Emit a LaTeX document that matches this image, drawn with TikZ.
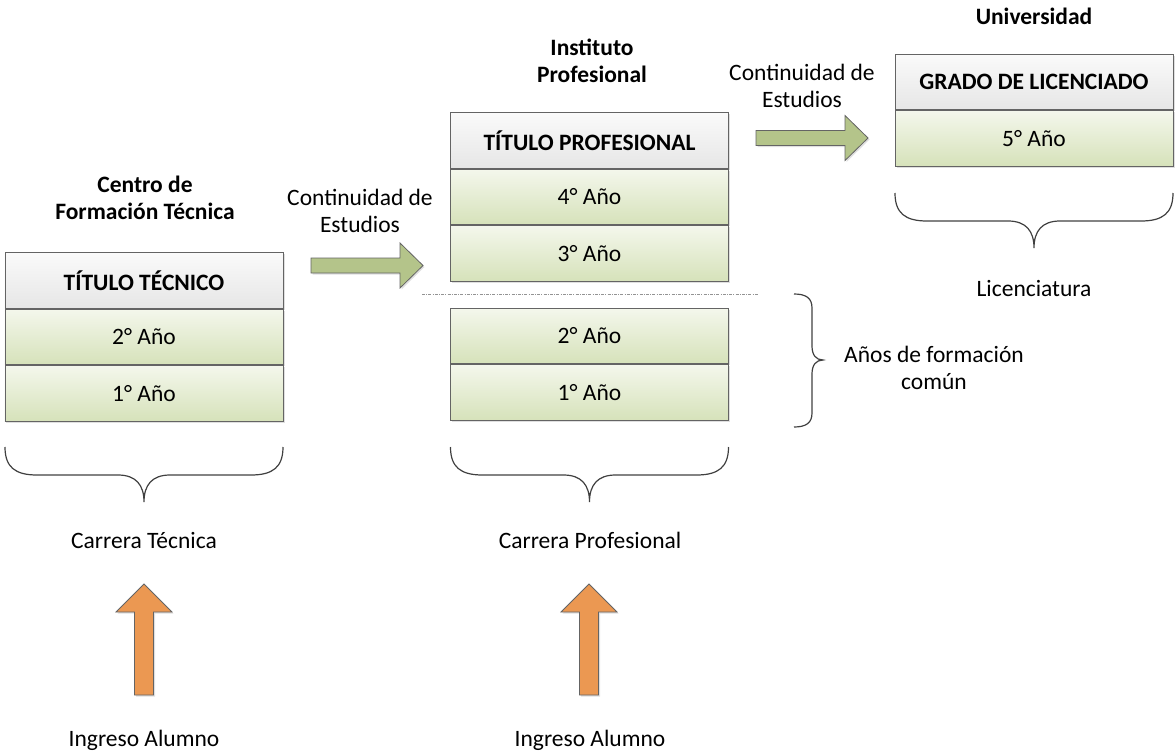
\documentclass[tikz,border=0pt]{standalone}
\usepackage{fontspec}
\setmainfont{Carlito}
\usepackage{tikz}
\usetikzlibrary{positioning,shadows}

\definecolor{rowtop}{RGB}{244,247,236}
\definecolor{rowbot}{RGB}{214,226,186}
\definecolor{headtop}{RGB}{250,250,250}
\definecolor{headbot}{RGB}{230,230,230}
\definecolor{arrowgreen}{RGB}{180,196,138}
\definecolor{arroworange}{RGB}{235,152,82}
\definecolor{linegray}{RGB}{100,100,100}
\newcommand{\diagfont}{\fontsize{23.5bp}{27bp}\selectfont}

\tikzset{
  yearbox/.style={rectangle,draw=linegray,line width=0.9bp,minimum width=278bp,minimum height=55.5bp,
    top color=rowtop,bottom color=rowbot,inner sep=0pt,
    drop shadow={shadow xshift=1.5bp,shadow yshift=-1.5bp,opacity=0.25,fill=gray}},
  titlebox/.style={yearbox,top color=headtop,bottom color=headbot,font=\diagfont\bfseries},
  blockarrow/.style={draw=linegray,line width=0.8bp,fill=arrowgreen,
    drop shadow={shadow xshift=1.5bp,shadow yshift=-1.5bp,opacity=0.25,fill=gray}},
  uparrow/.style={blockarrow,fill=arroworange},
  bracket/.style={draw=black!75,line width=1.2bp},
  lbl/.style={align=center,inner sep=0pt},
  head/.style={lbl,font=\diagfont\bfseries}
}

\begin{document}
\begin{tikzpicture}[x=1bp,y=-1bp,font=\diagfont]
\useasboundingbox (0,0) rectangle (1175,754);
%Centro de Formacion Tecnica
\node[titlebox] (tt) at (144,280.5) {TÍTULO TÉCNICO};
\node[yearbox,below=0pt of tt] (tt2) {2° Año};
\node[yearbox,below=0pt of tt2] (tt1) {1° Año};
\node[head] (cft) at (145,198) {Centro de\\Formación Técnica};
%Instituto Profesional
\node[titlebox] (tp) at (589.5,140.5) {TÍTULO PROFESIONAL};
\node[yearbox,below=0pt of tp] (tp4) {4° Año};
\node[yearbox,below=0pt of tp4] (tp3) {3° Año};
\node[yearbox] (tp2) at (589.5,336) {2° Año};
\node[yearbox,below=0pt of tp2] (tp1) {1° Año};
\node[head] (ip) at (592,61) {Instituto\\Profesional};
%Universidad
\node[titlebox] (gl) at (1034,82) {GRADO DE LICENCIADO};
\node[yearbox,below=0pt of gl] (gl5) {5° Año};
\node[head] (uni) at (1034,16) {Universidad};
%separation line
\draw[gray!85,line width=1bp,dash pattern=on 3bp off 1.2bp on 1bp off 1.2bp] (422,294) -- (758,294);
%continuity arrows
\foreach \sx/\sy in {311/265.5,756/138}
\draw[blockarrow,shift={(\sx,\sy)}] (0,-7.5) -- (89,-7.5) -- (89,-22.5) -- (112,0) -- (89,22.5) -- (89,7.5) -- (0,7.5) -- cycle;
\node[lbl] (ce1) at (360,211) {Continuidad de\\Estudios};
\node[lbl] (ce2) at (802,86) {Continuidad de\\Estudios};
%braces
\foreach \sx/\sy in {5/447,450.5/447,895/193}
\draw[bracket,shift={(\sx,\sy)}] (0,0) .. controls (0,20) and (10,28) .. (32,28) -- (113,28)
  .. controls (131,28) and (139,38) .. (139,55) .. controls (139,38) and (147,28) .. (165,28)
  -- (246,28) .. controls (268,28) and (278,20) .. (278,0);
\draw[bracket] (794,294) .. controls (806,294) and (812,298) .. (812,308) -- (812,346)
  .. controls (812,355) and (816,360) .. (823,360) .. controls (816,360) and (812,365) .. (812,374)
  -- (812,413) .. controls (812,423) and (806,427) .. (794,427);
\node[lbl] (afc) at (934,368) {Años de formación\\común};
\node[lbl] (lic) at (1034,289) {Licenciatura};
\node[lbl] (ct) at (144,540) {Carrera Técnica};
\node[lbl] (cp) at (590,540) {Carrera Profesional};
%student entry
\foreach \sx in {144,589}
\draw[uparrow,shift={(\sx,0)}] (-9.5,695) -- (-9.5,612) -- (-28,612) -- (0,584) -- (28,612) -- (9.5,612) -- (9.5,695) -- cycle;
\node[lbl] (ia1) at (144,740) {Ingreso Alumno};
\node[lbl] (ia2) at (590,740) {Ingreso Alumno};
\end{tikzpicture}
\end{document}
